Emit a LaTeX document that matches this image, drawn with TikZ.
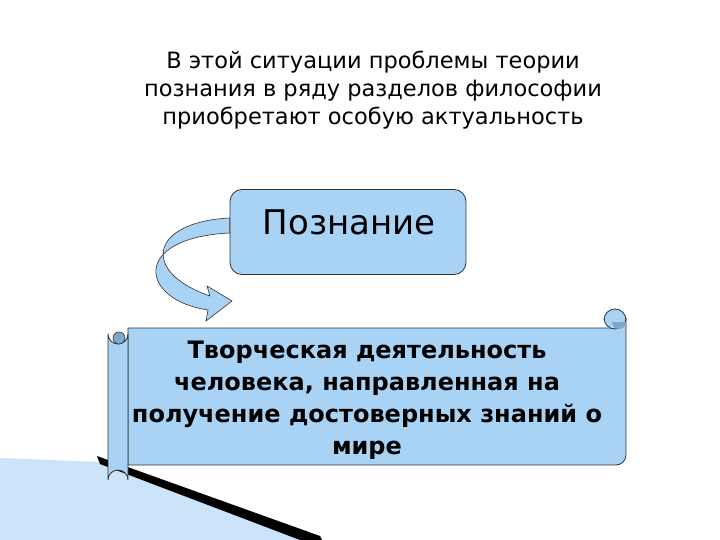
\documentclass[tikz,border=0pt]{standalone}
\usepackage{fontspec}
\setmainfont{DejaVu Sans}
\usetikzlibrary{shapes.arrows}
\definecolor{lb}{HTML}{A9D3F5}
\definecolor{db}{HTML}{7FA7C9}
\begin{document}
\begin{tikzpicture}[x=1pt,y=-1pt,
  boxst/.style={draw=black!80,line width=0.8pt,fill=lb},
  txt/.style={align=center,inner sep=0pt}]
\useasboundingbox (0,0) rectangle (720,540);
\fill[white] (0,0) rectangle (720,540);
% bottom-left decoration
\fill[lb!60] (0,458) -- (100,462) -- (320,540) -- (0,540) -- cycle;
\fill[black] (97,456) -- (320,536) -- (322,540) -- (300,540) -- (100,464) -- cycle;
% heading
\node[txt,font=\fontsize{22.5}{28}\selectfont] (head) at (373,90)
 {В этой ситуации проблемы теории\\познания в ряду разделов философии\\приобретают особую актуальность};
% Poznanie box
\node[boxst,rounded corners=12pt,minimum width=236pt,minimum height=85pt] (pz) at (348,232) {};
\node[txt,font=\fontsize{34}{40}\selectfont,anchor=center] (pzt) at (349,222) {Познание};
% curved arrow
\draw[boxst,line width=0.6pt] (pz.west|-0,218) .. controls (150,222) and (140,272) .. (210,296)
  -- (207,286) -- (232,301) -- (206,321) -- (208,310)
  .. controls (140,300) and (130,238) .. (pz.west|-0,233) -- cycle;
% scroll
\draw[boxst] (128,328) -- (612,328) -- (612,318) arc[start angle=180,end angle=0,radius=7] -- (626,455)
  arc[start angle=0,end angle=90,radius=10] -- (128,465) -- cycle;
\draw[boxst] (604,320) arc[start angle=180,end angle=360,radius=11] -- (626,318) arc[start angle=0,end angle=180,radius=11] -- cycle;
\fill[db] (612,322) arc[start angle=180,end angle=0,radius=7] -- (626,322) -- cycle;
\draw[boxst] (108,334) arc[start angle=180,end angle=0,radius=10] -- (128,480)
  arc[start angle=0,end angle=-180,radius=10] -- cycle;
\fill[db,draw=black!80,line width=0.6pt] (113,338) arc[start angle=180,end angle=360,radius=6] arc[start angle=0,end angle=180,radius=6];
\node[txt,font=\bfseries\fontsize{24}{32}\selectfont] (sc) at (367,400)
 {Творческая деятельность\\человека, направленная на\\получение достоверных знаний о\\мире};
\end{tikzpicture}
\end{document}
